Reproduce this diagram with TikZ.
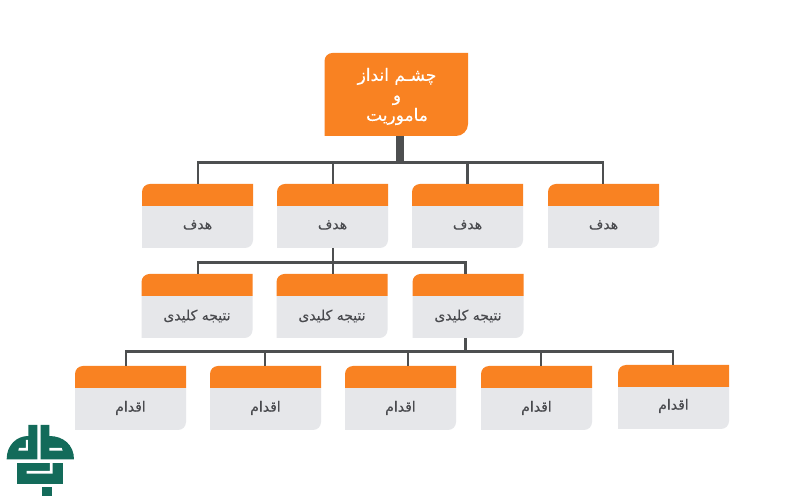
\documentclass[tikz,border=0pt]{standalone}
\usepackage{fontspec}
\newfontfamily\arabicfont[Script=Arabic,FakeBold=0.2]{DejaVu Sans}
\TeXXeTstate=1
\definecolor{cardorange}{HTML}{F98222}
\definecolor{cardgray}{HTML}{E6E7EA}
\definecolor{linegray}{HTML}{4D4F50}
\definecolor{textgray}{HTML}{4A4B4F}
\definecolor{logogreen}{HTML}{136B5A}
\tikzset{
  cardbox/.style={anchor=north west,minimum width=111pt,minimum height=64pt,inner sep=0pt,outer sep=0pt},
  cardtext/.style={text=textgray,font=\arabicfont\fontsize{14}{16}\selectfont,inner sep=0pt},
  conn/.style={draw=linegray,line width=2.8pt},
  hub/.style={draw=linegray,line width=7.5pt},
}
% name, left, top (pixels from the top), text, text offset below the top
\newcommand\mycard[5]{%
  \pgfmathsetmacro\cT{500-#3}%
  \pgfmathsetmacro\cB{\cT-64}%
  \pgfmathsetmacro\cM{\cT-22}%
  \pgfmathsetmacro\cR{#2+111}%
  \pgfmathsetmacro\cX{#2+55.5}%
  \pgfmathsetmacro\cY{500-#3-#5}%
  \node[cardbox] (#1) at (#2,\cT) {};
  \fill[cardgray] (#2,\cM) -- (#2,\cB) -- (\cR-8,\cB) arc[start angle=270,end angle=360,radius=8pt] -- (\cR,\cM) -- cycle;
  \fill[cardorange] (#2,\cM) -- (#2,\cT-8) arc[start angle=180,end angle=90,radius=8pt] -- (\cR,\cT) -- (\cR,\cM) -- cycle;
  \node[cardtext] (#1-label) at (\cX,\cY) {\beginR #4\endR};
}
\begin{document}
\begin{tikzpicture}[x=1pt,y=1pt]
\useasboundingbox (0,0) rectangle (800,500);
\fill[white] (0,0) rectangle (800,500);
% top box
\node[anchor=north west,minimum width=143.5pt,minimum height=83pt,inner sep=0pt,outer sep=0pt] (top) at (324.5,447) {};
\fill[cardorange] (324.5,364) -- (324.5,439) arc[start angle=180,end angle=90,radius=8pt] -- (468,447) -- (468,376) arc[start angle=0,end angle=-90,radius=12pt] -- cycle;
\node[align=center,text=white,font=\arabicfont\fontsize{17}{20}\selectfont,inner sep=0pt] (toplabel) at (397,403.5) {\beginR چشـم انداز\endR\\\beginR و\endR\\\beginR ماموریت\endR};
% row 1
\mycard{g1}{142}{184}{هدف}{41}
\mycard{g2}{277}{184}{هدف}{41}
\mycard{g3}{412}{184}{هدف}{41}
\mycard{g4}{548}{184}{هدف}{41}
% row 2
\mycard{k1}{141.5}{274}{\beginR نتیجه کلیدی\endR}{42}
\mycard{k2}{276.5}{274}{\beginR نتیجه کلیدی\endR}{42}
\mycard{k3}{412.5}{274}{\beginR نتیجه کلیدی\endR}{42}
% row 3
\mycard{a1}{75}{366}{اقدام}{42}
\mycard{a2}{210}{366}{اقدام}{42}
\mycard{a3}{345}{366}{اقدام}{42}
\mycard{a4}{481}{366}{اقدام}{42}
\mycard{a5}{618}{365}{اقدام}{41}
% buses
\coordinate (busA) at (400,337.5);
\coordinate (busA1) at (198,337.5);
\coordinate (busA2) at (333,337.5);
\coordinate (busA3) at (467.5,337.5);
\coordinate (busA4) at (603,337.5);
\coordinate (busB) at (333,237.5);
\coordinate (busB1) at (198,237.5);
\coordinate (busB3) at (465.5,237.5);
\coordinate (busC) at (465.5,148.5);
\coordinate (busC1) at (126,148.5);
\coordinate (busC2) at (265,148.5);
\coordinate (busC3) at (408,148.5);
\coordinate (busC4) at (541,148.5);
\coordinate (busC5) at (673,148.5);
% connectors
\draw[hub] (top.south -| busA) -- (busA);
\draw[conn,line cap=rect] (busA1) -- (busA4);
\foreach \b/\n in {busA1/g1,busA2/g2,busA3/g3,busA4/g4}
  \draw[conn] (\b) -- (\b |- \n.north);
\draw[conn,line cap=rect] (busB1) -- (busB3);
\draw[conn] (g2.south -| busB) -- (busB);
\foreach \b/\n in {busB1/k1,busB/k2,busB3/k3}
  \draw[conn] (\b) -- (\b |- \n.north);
\draw[conn,line cap=rect] (busC1) -- (busC5);
\draw[conn] (k3.south -| busC) -- (busC);
\foreach \b/\n in {busC1/a1,busC2/a2,busC3/a3,busC4/a4,busC5/a5}
  \draw[conn] (\b) -- (\b |- \n.north);
% logo
\begin{scope}[x=0.3333pt,y=-0.3333pt,yshift=80pt]
\fill[logogreen] (20,118) .. controls (20,75) and (50,48) .. (85,48) -- (85,15) -- (112,15) -- (112,118) -- cycle;
\fill[logogreen] (122,15) -- (148,15) -- (148,48) .. controls (190,48) and (222,75) .. (222,118) -- (122,118) -- cycle;
\fill[white] (55,92) -- (57,84) -- (78,84) -- (78,60) -- (84,60) -- (84,92) -- cycle;
\fill[white] (148,92) -- (148,84) -- (185,84) -- (188,92) -- cycle;
\fill[logogreen] (50,128) -- (190,128) -- (190,192) -- (50,192) -- cycle;
\fill[white] (80,153) -- (150,153) -- (150,128) -- (158,128) -- (158,161) -- (80,161) -- cycle;
\fill[logogreen] (125,200) -- (155,200) -- (155,228) -- (125,228) -- cycle;
\end{scope}
\end{tikzpicture}
\end{document}
